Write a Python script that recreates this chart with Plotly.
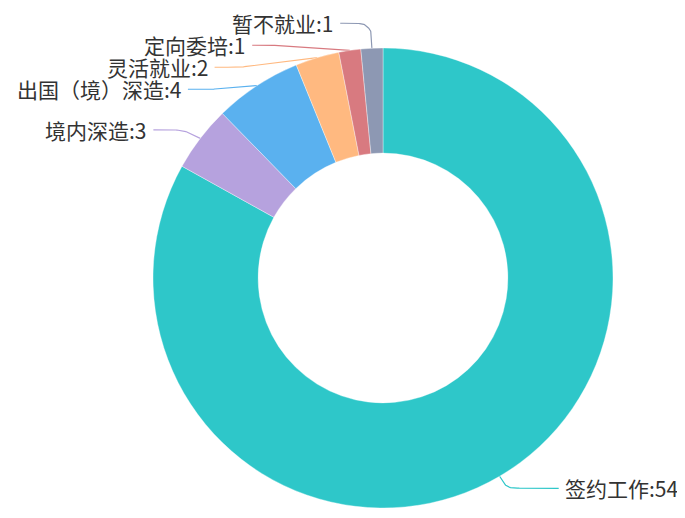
import numpy as np
import plotly.graph_objects as go

# ---- data ----
categories = ["签约工作", "境内深造", "出国（境）深造", "灵活就业", "定向委培", "暂不就业"]
values = [54, 3, 4, 2, 1, 1]
colors = ["#2ec7c9", "#b6a2de", "#5ab1ef", "#ffb980", "#d87a80", "#8d98b3"]

# ---- layout parameters (figure px; page has 8px body margin) ----
W, H = 677, 502
CX, CY = 375, 270          # pie centre (px)
R_OUT = 230                # outer radius (px)
HOLE = 0.543
LEN1 = 14                  # first label-line segment
LEN2 = 31                  # horizontal label-line segment
LEN2_RIGHT = 52
TEXT_GAP = 5
LINE_H = 22
BALANCE = 0.55
SMOOTH = 0.3
FONT_SIZE = 21
FONT_FAMILY = "Noto Sans CJK SC, Microsoft YaHei, sans-serif"
TEXT_COLOR = "#333333"

# ---- label layout (echarts-like) ----
vals = np.array(values, dtype=float)
total = vals.sum()
cum = np.concatenate([[0], np.cumsum(vals)])
mid = (cum[:-1] + cum[1:]) / 2 / total * 2 * np.pi   # clockwise from 12 o'clock
dirx, diry = np.sin(mid), -np.cos(mid)
rA = R_OUT + LEN1
anchor_x, anchor_y = CX + R_OUT * dirx, CY + R_OUT * diry
bend_x, bend_y = CX + rA * dirx, CY + rA * diry
label_y = bend_y.copy()
side = np.where(dirx < 0, -1, 1)

for s in (-1, 1):
    idx = [i for i in range(len(vals)) if side[i] == s]
    idx.sort(key=lambda i: label_y[i])
    if len(idx) < 2:
        continue
    shifted = False
    groups, shifts = [], []
    last = -1e9
    for i in idx:
        sh = max(0.0, last + LINE_H - label_y[i])
        label_y[i] += sh
        if sh > 0 and groups:
            groups[-1].append(i)
            shifts[-1].append(sh)
            shifted = True
        else:
            groups.append([i])
            shifts.append([sh])
        last = label_y[i]
    for g, shs in zip(groups, shifts):
        if len(g) > 1:
            m = BALANCE * np.mean(shs)
            for i in g:
                label_y[i] -= m
    if shifted:
        for semi in (lambda y: y < CY, lambda y: y >= CY):
            items = [i for i in idx if semi(label_y[i])]
            if not items:
                continue
            top = max(items, key=lambda i: abs(label_y[i] - CY))
            dy = abs(label_y[top] - CY)
            dx = abs(bend_x[top] - CX)
            rB = dy / np.sqrt(1 - (dx / rA) ** 2) if dx < rA else rA
            for i in items:
                dyi = abs(label_y[i] - CY)
                f = np.sqrt(max(0.0, 1 - dyi ** 2 / rB ** 2))
                bend_x[i] = CX + s * f * rA
    for i in idx:
        bend_y[i] = label_y[i]

len2 = np.where(side < 0, LEN2, LEN2_RIGHT)
end_x = bend_x + side * len2
text_x = end_x + side * TEXT_GAP


def smooth_line(p0, p1, p2, smooth=SMOOTH, n=24):
    p0, p1, p2 = map(np.array, (p0, p1, p2))
    l1 = np.linalg.norm(p1 - p0)
    l2 = np.linalg.norm(p2 - p1)
    if l1 == 0 or l2 == 0:
        return np.array([p0, p1, p2])
    m = min(l1, l2) * smooth
    m0 = p1 + (p0 - p1) * (m / l1)
    m2 = p1 + (p2 - p1) * (m / l2)
    m1 = (m0 + m2) / 2
    t = np.linspace(0, 1, n)[:, None]
    c1 = (1 - t) ** 3 * p0 + 3 * (1 - t) ** 2 * t * m0 + 3 * (1 - t) * t ** 2 * m0 + t ** 3 * m1
    c2 = (1 - t) ** 3 * m1 + 3 * (1 - t) ** 2 * t * m2 + 3 * (1 - t) * t ** 2 * m2 + t ** 3 * p2
    return np.vstack([c1, c2])


fig = go.Figure()

for i in range(len(vals)):
    pts = smooth_line((anchor_x[i], anchor_y[i]), (bend_x[i], bend_y[i]), (end_x[i], label_y[i]))
    fig.add_trace(go.Scatter(x=pts[:, 0], y=pts[:, 1], mode="lines",
                             line=dict(color=colors[i], width=1.2),
                             hoverinfo="skip", showlegend=False))

fig.add_trace(go.Pie(
    labels=categories, values=values, sort=False, direction="clockwise", rotation=0,
    hole=HOLE, marker=dict(colors=colors, line=dict(color="rgba(255,255,255,0.6)", width=0.6)),
    textinfo="none", showlegend=False,
    domain=dict(x=[(CX - R_OUT) / W, (CX + R_OUT) / W],
                y=[(H - CY - R_OUT) / H, (H - CY + R_OUT) / H]),
))

for i in range(len(vals)):
    fig.add_annotation(x=text_x[i], y=label_y[i], xref="x", yref="y",
                       text=f"{categories[i]}:{values[i]}", showarrow=False,
                       xanchor="right" if side[i] < 0 else "left", yanchor="middle",
                       font=dict(size=FONT_SIZE, family=FONT_FAMILY, color=TEXT_COLOR),
                       borderpad=0)

fig.update_layout(
    width=W, height=H, margin=dict(l=0, r=0, t=0, b=0),
    paper_bgcolor="white", plot_bgcolor="white", showlegend=False,
    xaxis=dict(range=[0, W], visible=False, fixedrange=True, domain=[0, 1]),
    yaxis=dict(range=[H, 0], visible=False, fixedrange=True, domain=[0, 1]),
)

fig.write_html("out.html")
